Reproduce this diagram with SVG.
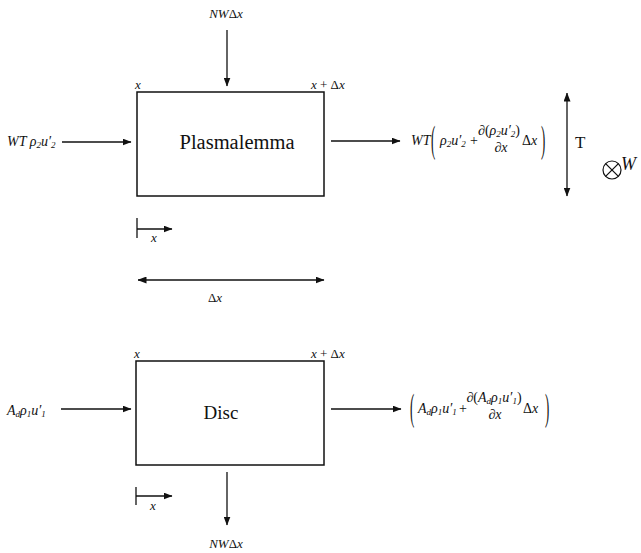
<svg xmlns="http://www.w3.org/2000/svg" width="641" height="553" viewBox="0 0 641 553">
<style>
.ln{stroke:#111;stroke-width:1.3;fill:none}
.box{fill:#fff;stroke:#111;stroke-width:1.5}
.m{font-family:'Liberation Serif','Times New Roman',serif;font-style:italic;font-size:13px;fill:#111}
.f{font-family:'Liberation Serif','Times New Roman',serif;font-style:italic;font-size:14px;fill:#111}
.r{font-family:'Liberation Serif','Times New Roman',serif;fill:#111}
.s{font-size:9px;font-style:italic}
.n{font-style:normal}
.pn{font-family:'Liberation Serif','Times New Roman',serif;font-size:16px;fill:#111}
</style>
<defs>
<marker id="ah" markerWidth="9" markerHeight="7" refX="8.5" refY="3.5" orient="auto-start-reverse" markerUnits="userSpaceOnUse"><path d="M0,0 L9,3.5 L0,7 z" fill="#111"/></marker>
</defs>

<g id="plasmalemma">
<rect class="box" x="137" y="92" width="187" height="104"/>
<text class="r" x="237" y="149" font-size="20.5" text-anchor="middle">Plasmalemma</text>
</g>

<g id="disc">
<rect class="box" x="136" y="361" width="188" height="104"/>
<text class="r" x="221" y="419" font-size="19" text-anchor="middle">Disc</text>
</g>

<g id="connectors">
<line class="ln" x1="227" y1="30" x2="227" y2="86" marker-end="url(#ah)"/>
<line class="ln" x1="62" y1="142" x2="131" y2="142" marker-end="url(#ah)"/>
<line class="ln" x1="331" y1="141" x2="400" y2="141" marker-end="url(#ah)"/>
<line class="ln" x1="567" y1="93" x2="567" y2="196" marker-start="url(#ah)" marker-end="url(#ah)"/>
<line class="ln" x1="61" y1="409" x2="131" y2="409" marker-end="url(#ah)"/>
<line class="ln" x1="331" y1="409" x2="401" y2="409" marker-end="url(#ah)"/>
<line class="ln" x1="227" y1="472" x2="227" y2="525" marker-end="url(#ah)"/>
<line class="ln" x1="137" y1="218" x2="137" y2="238"/>
<line class="ln" x1="137" y1="229" x2="172" y2="229" marker-end="url(#ah)"/>
<line class="ln" x1="138" y1="280" x2="324" y2="280" marker-start="url(#ah)" marker-end="url(#ah)"/>
<line class="ln" x1="136" y1="487" x2="136" y2="505"/>
<line class="ln" x1="136" y1="496" x2="172" y2="496" marker-end="url(#ah)"/>
</g>

<g id="labels">
<text class="m" x="226" y="18" text-anchor="middle">NW<tspan class="n">Δ</tspan>x</text>
<text class="m" x="226" y="548" text-anchor="middle">NW<tspan class="n">Δ</tspan>x</text>
<text class="m" x="135" y="89">x</text>
<text class="m" x="311" y="89">x <tspan class="n">+ Δ</tspan>x</text>
<text class="m" x="134" y="358">x</text>
<text class="m" x="311" y="358">x <tspan class="n">+ Δ</tspan>x</text>
<text class="m" x="151" y="242">x</text>
<text class="m" x="150" y="510">x</text>
<text class="m" x="215" y="302" text-anchor="middle"><tspan class="n">Δ</tspan>x</text>

<text class="f" x="7" y="146">WT ρ<tspan class="s" dy="2">2</tspan><tspan dy="-2">u′</tspan><tspan class="s" dy="2">2</tspan></text>
<text class="f" x="7" y="415">A<tspan class="s" dy="2">d</tspan><tspan dy="-2">ρ</tspan><tspan class="s" dy="2">1</tspan><tspan dy="-2">u′</tspan><tspan class="s" dy="2">1</tspan></text>

<text class="r" x="575" y="148" font-size="17">T</text>
<circle cx="612" cy="170" r="9" fill="none" stroke="#111" stroke-width="1.2"/>
<path class="ln" d="M605.6,163.6 L618.4,176.4 M618.4,163.6 L605.6,176.4" stroke-width="1.1"/>
<text class="r" x="621" y="170" font-size="18" font-style="italic">W</text>

<!-- top formula -->
<text class="f" x="411" y="145">WT</text>
<text class="pn" transform="translate(431,152) scale(0.8,2.4)">(</text>
<text class="f" x="440" y="145">ρ<tspan class="s" dy="2">2</tspan><tspan dy="-2">u′</tspan><tspan class="s" dy="2">2</tspan></text>
<text class="r" x="470" y="145" font-size="14">+</text>
<text class="f" x="499" y="135" text-anchor="middle"><tspan class="n">∂(</tspan>ρ<tspan class="s" dy="2">2</tspan><tspan dy="-2">u′</tspan><tspan class="s" dy="2">2</tspan><tspan class="n" dy="-2">)</tspan></text>
<text class="f" x="501" y="152" text-anchor="middle"><tspan class="n">∂</tspan>x</text>
<text class="f" x="522" y="145"><tspan class="n">Δ</tspan>x</text>
<text class="pn" transform="translate(541,152) scale(0.8,2.4)">)</text>

<!-- bottom formula -->
<text class="pn" transform="translate(410,420) scale(0.8,2.4)">(</text>
<text class="f" x="418" y="413">A<tspan class="s" dy="2">d</tspan><tspan dy="-2">ρ</tspan><tspan class="s" dy="2">1</tspan><tspan dy="-2">u′</tspan><tspan class="s" dy="2">1</tspan></text>
<text class="r" x="459" y="413" font-size="14">+</text>
<text class="f" x="494" y="402" text-anchor="middle"><tspan class="n">∂(</tspan>A<tspan class="s" dy="2">d</tspan><tspan dy="-2">ρ</tspan><tspan class="s" dy="2">1</tspan><tspan dy="-2">u′</tspan><tspan class="s" dy="2">1</tspan><tspan class="n" dy="-2">)</tspan></text>
<text class="f" x="495" y="419" text-anchor="middle"><tspan class="n">∂</tspan>x</text>
<text class="f" x="523" y="413"><tspan class="n">Δ</tspan>x</text>
<text class="pn" transform="translate(545,420) scale(0.8,2.4)">)</text>
</g>
</svg>
